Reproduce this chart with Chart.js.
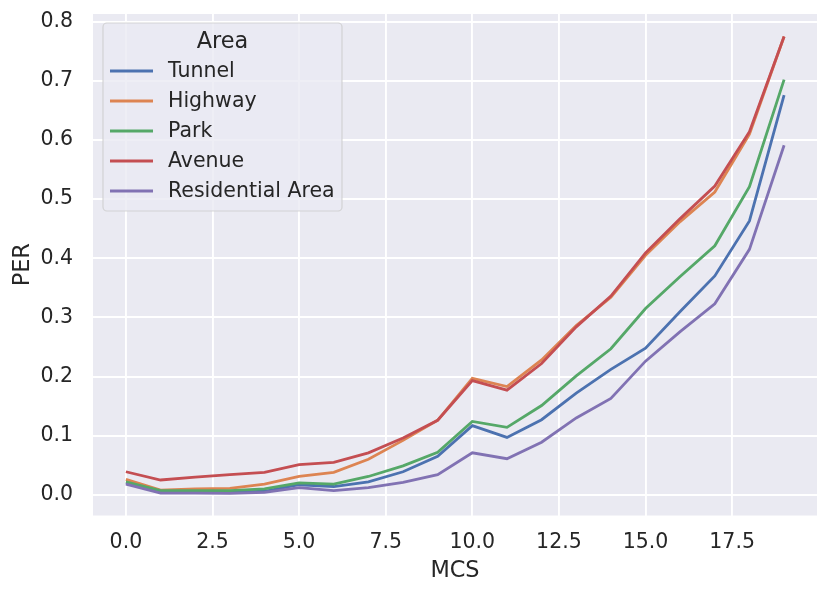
<!DOCTYPE html>
<html>
<head>
<meta charset="utf-8">
<script src="https://cdn.jsdelivr.net/npm/chart.js@4.4.0/dist/chart.umd.min.js"></script>
<style>
html,body{margin:0;padding:0;background:#ffffff;}
#wrap{width:830px;height:597px;}
</style>
</head>
<body>
<div id="wrap"><canvas id="c" width="830" height="597"></canvas></div>
<script>
const MCS = [0,1,2,3,4,5,6,7,8,9,10,11,12,13,14,15,16,17,18,19];
const seriesNames = ["Tunnel","Highway","Park","Avenue","Residential Area"];
const tunnel = [0.020,0.004,0.004,0.004,0.006,0.017,0.014,0.022,0.039,0.065,0.117,0.097,0.127,0.172,0.212,0.248,0.310,0.370,0.463,0.676];
const highway = [0.026,0.008,0.010,0.011,0.018,0.031,0.038,0.060,0.092,0.126,0.197,0.183,0.228,0.286,0.334,0.405,0.462,0.512,0.610,0.775];
const park = [0.022,0.007,0.007,0.007,0.010,0.020,0.018,0.031,0.049,0.072,0.124,0.114,0.151,0.201,0.247,0.315,0.369,0.421,0.521,0.702];
const avenue = [0.039,0.025,0.030,0.034,0.038,0.051,0.055,0.071,0.096,0.126,0.193,0.177,0.222,0.284,0.336,0.409,0.467,0.522,0.614,0.775];
const residential = [0.018,0.003,0.003,0.0025,0.004,0.012,0.007,0.012,0.021,0.034,0.071,0.061,0.089,0.130,0.163,0.226,0.276,0.323,0.415,0.591];
const colors = ["#4c72b0","#dd8452","#55a868","#c44e52","#8172b3"];
const legendTitle = "Area";
const xTitle = "MCS";
const yTitle = "PER";

const allSeries = [tunnel, highway, park, avenue, residential];
const FONT = "'DejaVu Sans', sans-serif";
const TXT = "#262626";

const datasets = allSeries.map((vals, i) => ({
  label: seriesNames[i],
  data: MCS.map((x, j) => ({x: x, y: vals[j]})),
  borderColor: colors[i],
  backgroundColor: colors[i],
  borderWidth: 2.8,
  pointRadius: 0,
  tension: 0,
  fill: false,
  order: allSeries.length - i
}));

const bgPlugin = {
  id: 'bg',
  beforeDraw(chart) {
    const {ctx, chartArea: a} = chart;
    ctx.save();
    ctx.fillStyle = '#eaeaf2';
    ctx.fillRect(a.left, a.top, a.right - a.left, a.bottom - a.top);
    ctx.restore();
  }
};

const legendPlugin = {
  id: 'areaLegend',
  afterDatasetsDraw(chart) {
    const ctx = chart.ctx;
    const x0 = 103, y0 = 23, w = 239, h = 188, r = 4;
    ctx.save();
    ctx.beginPath();
    ctx.moveTo(x0 + r, y0);
    ctx.lineTo(x0 + w - r, y0);
    ctx.arcTo(x0 + w, y0, x0 + w, y0 + r, r);
    ctx.lineTo(x0 + w, y0 + h - r);
    ctx.arcTo(x0 + w, y0 + h, x0 + w - r, y0 + h, r);
    ctx.lineTo(x0 + r, y0 + h);
    ctx.arcTo(x0, y0 + h, x0, y0 + h - r, r);
    ctx.lineTo(x0, y0 + r);
    ctx.arcTo(x0, y0, x0 + r, y0, r);
    ctx.closePath();
    ctx.fillStyle = 'rgba(234,234,242,0.8)';
    ctx.fill();
    ctx.strokeStyle = 'rgba(204,204,204,0.8)';
    ctx.lineWidth = 1.2;
    ctx.stroke();
    ctx.fillStyle = TXT;
    ctx.textBaseline = 'middle';
    ctx.textAlign = 'center';
    ctx.font = "22.4px " + FONT;
    ctx.fillText(legendTitle, x0 + w / 2, 42);
    ctx.textAlign = 'left';
    ctx.font = "20.5px " + FONT;
    seriesNames.forEach((name, i) => {
      const y = 71 + i * 30;
      ctx.strokeStyle = colors[i];
      ctx.lineWidth = 2.8;
      ctx.beginPath();
      ctx.moveTo(110, y);
      ctx.lineTo(153, y);
      ctx.stroke();
      ctx.fillStyle = TXT;
      ctx.fillText(name, 168, y + 1);
    });
    ctx.restore();
  }
};

new Chart(document.getElementById('c'), {
  type: 'line',
  data: { datasets: datasets },
  plugins: [bgPlugin, legendPlugin],
  options: {
    responsive: false,
    animation: false,
    devicePixelRatio: 1,
    layout: { padding: { top: 14, right: 13, left: 0, bottom: 0 } },
    plugins: { legend: { display: false }, tooltip: { enabled: false } },
    scales: {
      x: {
        type: 'linear',
        min: -0.95,
        max: 19.95,
        afterFit(s) { s.height = 81.5; s.paddingLeft = 0; s.paddingRight = 0; },
        ticks: {
          stepSize: 2.5,
          includeBounds: false,
          padding: 15,
          color: TXT,
          font: { family: FONT, size: 20.5 },
          callback: v => Number(v).toFixed(1),
          maxRotation: 0
        },
        grid: { color: '#ffffff', lineWidth: 1.9, drawTicks: false },
        border: { display: false },
        title: { display: true, text: xTitle, color: TXT, font: { family: FONT, size: 22.4 }, padding: { top: 0, bottom: 12.5 } }
      },
      y: {
        type: 'linear',
        min: -0.035,
        max: 0.813,
        afterFit(s) { s.width = 93; s.paddingTop = 0; s.paddingBottom = 0; },
        ticks: {
          stepSize: 0.1,
          includeBounds: false,
          padding: 20,
          color: TXT,
          font: { family: FONT, size: 20.5 },
          callback: v => Number(v).toFixed(1)
        },
        grid: { color: '#ffffff', lineWidth: 1.9, drawTicks: false },
        border: { display: false },
        title: { display: true, text: yTitle, color: TXT, font: { family: FONT, size: 22.4 }, padding: { top: 10, bottom: 0 } }
      }
    }
  }
});
</script>
</body>
</html>
